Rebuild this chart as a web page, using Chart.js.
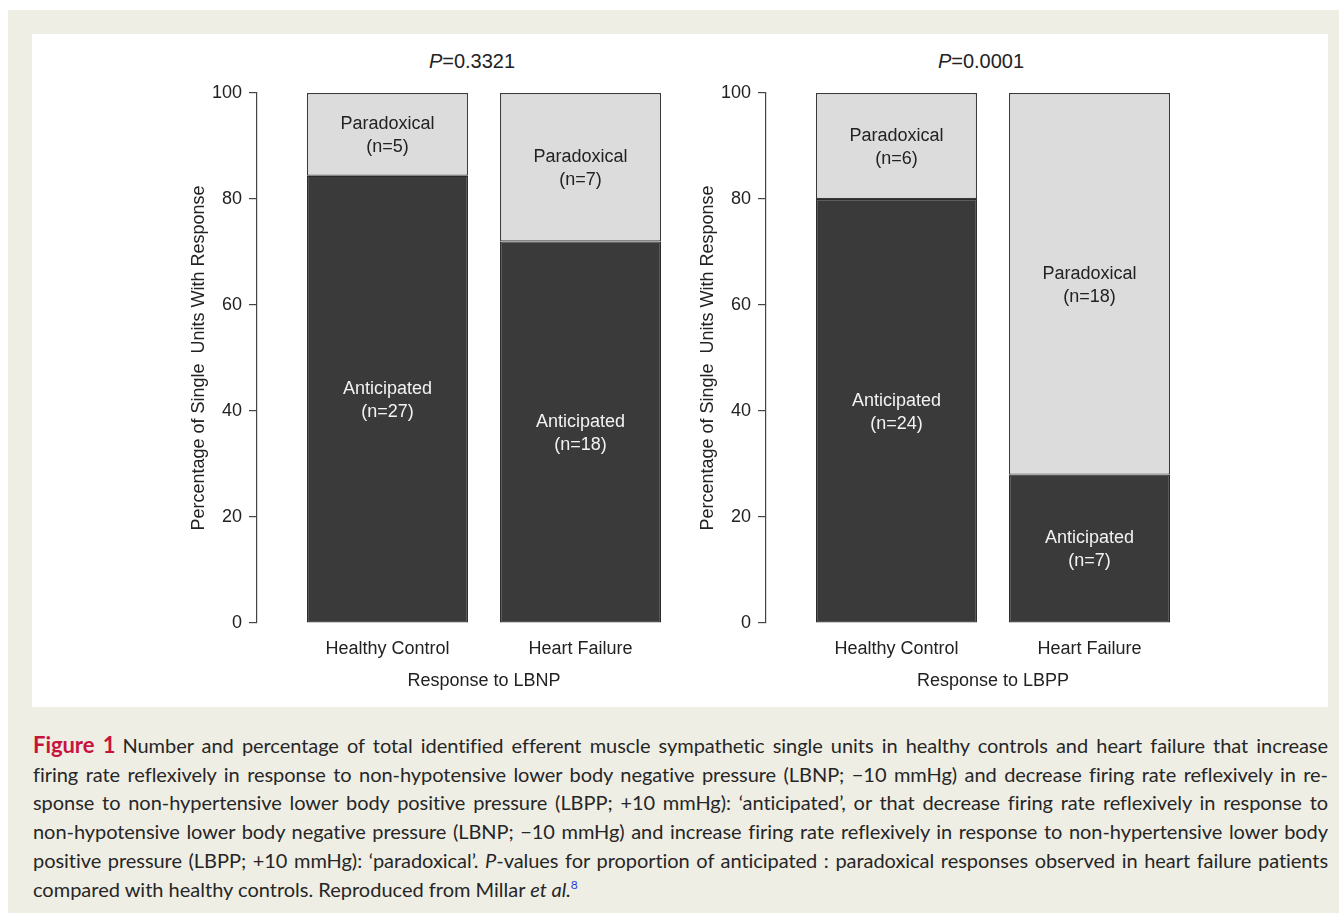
<!DOCTYPE html>
<html>
<head>
<meta charset="utf-8">
<script src="https://cdn.jsdelivr.net/npm/chart.js@4/dist/chart.umd.min.js"></script>
<style>
  body { margin: 0; width: 1339px; height: 915px; position: relative; overflow: hidden; background: #fff; font-family: "Liberation Sans", Arial, sans-serif; }
  #frame { position: absolute; left: 8px; top: 10px; width: 1331px; height: 903px; background: #efeee5; }
  #panel { position: absolute; left: 32px; top: 34px; width: 1296px; height: 673px; background: #fff; }
  .plot { position: absolute; top: 34px; }
  .ptitle { position: absolute; top: 50px; width: 200px; text-align: center; font-size: 20px; color: #222; }
  #caption { position: absolute; left: 33px; top: 731px; width: 1295px; font-family: Lato, "Open Sans", sans-serif; font-size: 20px; line-height: 28.7px; color: #262626; }
  #caption .ln { white-space: nowrap; text-align: justify; text-align-last: justify; }
  #caption .ln.last { text-align-last: left; }
  #caption .fig { color: #c8143c; font-weight: bold; font-size: 22px; margin-right: 7px; }
  #caption sup { color: #2a3fd6; font-size: 12px; line-height: 0; }
</style>
</head>
<body>
<div id="frame"></div>
<div id="panel"></div>
<div class="ptitle" style="left:372px"><i>P</i>=0.3321</div>
<div class="ptitle" style="left:881px"><i>P</i>=0.0001</div>
<canvas id="lbnp" class="plot" width="565" height="673" style="left:150px"></canvas>
<canvas id="lbpp" class="plot" width="565" height="673" style="left:659px"></canvas>
<div id="caption">
  <div class="ln"><span><span class="fig">Figure 1</span>Number and percentage of total identified efferent muscle sympathetic single units in healthy controls and heart failure that increase</span></div>
  <div class="ln"><span>firing rate reflexively in response to non-hypotensive lower body negative pressure (LBNP; −10 mmHg) and decrease firing rate reflexively in re-</span></div>
  <div class="ln"><span>sponse to non-hypertensive lower body positive pressure (LBPP; +10 mmHg): ‘anticipated’, or that decrease firing rate reflexively in response to</span></div>
  <div class="ln"><span>non-hypotensive lower body negative pressure (LBNP; −10 mmHg) and increase firing rate reflexively in response to non-hypertensive lower body</span></div>
  <div class="ln"><span>positive pressure (LBPP; +10 mmHg): ‘paradoxical’. <i>P</i>-values for proportion of anticipated : paradoxical responses observed in heart failure patients</span></div>
  <div class="ln last"><span>compared with healthy controls. Reproduced from Millar <i>et al.</i><sup>8</sup></span></div>
</div>
<script>
// data (percent of single units per group)
const categories = ['Healthy Control', 'Heart Failure'];
const yTicks = [0, 20, 40, 60, 80, 100];

const lbnpAnticipated = [84.4, 72.0];
const lbnpParadoxical = [15.6, 28.0];
const lbnpAnticipatedN = [27, 18];
const lbnpParadoxicalN = [5, 7];

const lbppAnticipated = [80.0, 28.0];
const lbppParadoxical = [20.0, 72.0];
const lbppAnticipatedN = [24, 7];
const lbppParadoxicalN = [6, 18];

const DARK = '#3a3a3a';
const LIGHT = '#dcdcdc';
const INK = '#222';
const FONT = '"Liberation Sans", Arial, sans-serif';

// writes "Paradoxical (n=5)" etc. in the middle of each stacked segment
const segmentLabels = {
    id: 'segmentLabels',
    afterDatasetsDraw(chart) {
        const ctx = chart.ctx;
        ctx.save();
        ctx.font = '18px ' + FONT;
        ctx.textAlign = 'center';
        ctx.textBaseline = 'middle';
        chart.data.datasets.forEach((ds, di) => {
            chart.getDatasetMeta(di).data.forEach((bar, i) => {
                const { x, y, base } = bar.getProps(['x', 'y', 'base'], true);
                const mid = (y + base) / 2;
                ctx.fillStyle = ds.textColor;
                ctx.fillText(ds.label, x, mid - 10);
                ctx.fillText('(n=' + ds.counts[i] + ')', x, mid + 13);
            });
        });
        ctx.restore();
    }
};

function makeChart(id, anticipated, paradoxical, antN, parN, xTitle) {
    const toPoints = arr => arr.map((v, i) => ({ x: i, y: v }));
    return new Chart(document.getElementById(id), {
        type: 'bar',
        data: {
            datasets: [
                { label: 'Anticipated', data: toPoints(anticipated), counts: antN, textColor: '#f2f2f2',
                  backgroundColor: DARK, borderColor: '#2a2a2a', borderWidth: 1.2, borderSkipped: false },
                { label: 'Paradoxical', data: toPoints(paradoxical), counts: parN, textColor: INK,
                  backgroundColor: LIGHT, borderColor: '#3a3a3a', borderWidth: 1.2, borderSkipped: false }
            ]
        },
        plugins: [segmentLabels],
        options: {
            responsive: false,
            animation: false,
            barPercentage: 0.834,
            categoryPercentage: 1,
            layout: { padding: { left: 0, right: 4, top: 59, bottom: 0 } },
            plugins: { legend: { display: false }, tooltip: { enabled: false } },
            scales: {
                x: {
                    type: 'linear',
                    stacked: true,
                    offset: false,
                    min: -0.676,
                    max: 1.676,
                    afterBuildTicks: s => { s.ticks = categories.map((c, i) => ({ value: i })); },
                    afterFit: s => { s.height = 84; },
                    grid: { display: false },
                    border: { display: false },
                    ticks: { color: INK, font: { size: 18, family: FONT }, padding: 7,
                             callback: v => categories[v] },
                    title: { display: true, text: xTitle, color: INK, font: { size: 18, family: FONT },
                             padding: { top: 0, bottom: 15 } }
                },
                y: {
                    stacked: true,
                    min: 0,
                    max: 100,
                    afterBuildTicks: s => { s.ticks = yTicks.map(v => ({ value: v })); },
                    afterFit: s => { s.width = 107; },
                    grid: { drawOnChartArea: false, drawTicks: true, tickLength: 8, color: '#444', lineWidth: 1.2 },
                    border: { display: true, color: '#444', width: 1.2 },
                    ticks: { color: INK, font: { size: 18, family: FONT }, padding: 7 },
                    title: { display: true, text: 'Percentage of Single  Units With Response', color: INK,
                             font: { size: 18, family: FONT }, padding: { top: 38, bottom: 0 } }
                }
            }
        }
    });
}

makeChart('lbnp', lbnpAnticipated, lbnpParadoxical, lbnpAnticipatedN, lbnpParadoxicalN, 'Response to LBNP');
makeChart('lbpp', lbppAnticipated, lbppParadoxical, lbppAnticipatedN, lbppParadoxicalN, 'Response to LBPP');

// fit each justified caption line to the column with a little letter spacing
document.querySelectorAll('#caption .ln:not(.last)').forEach(ln => {
    const span = ln.firstElementChild;
    const w = span.getBoundingClientRect().width;
    const target = ln.clientWidth;
    const chars = span.textContent.length;
    let ls = (target - w) / chars - 0.05;
    ls = Math.max(-1.2, Math.min(0.9, ls));
    span.style.letterSpacing = ls + 'px';
});
</script>
</body>
</html>
